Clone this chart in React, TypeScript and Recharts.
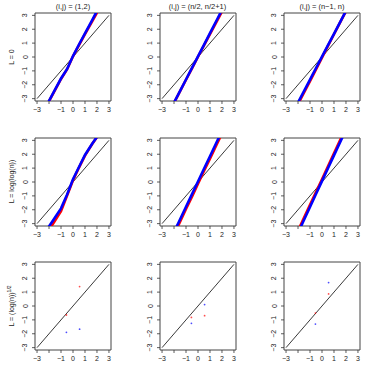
import React from "react";
import {
    ComposedChart,
    Line,
    ReferenceArea,
    Scatter,
    XAxis,
    YAxis,
} from "recharts";

// axis ticks
const X_TICKS = [-3, -2, -1, 0, 1, 2, 3];
const Y_TICKS = [-3, -2, -1, 0, 1, 2, 3];

const TITLES = ["(i,j) = (1,2)", "(i,j) = (n/2, n/2+1)", "(i,j) = (n\u22121, n)"];
const ROW_LABELS = ["L = 0", "L = log(log(n))", "L = (log(n))"];

// reference line y = x
const DIAG_X = [-3, 3];
const DIAG_Y = [-3, 3];

// theoretical quantiles, rows 1-2 (dense qq point clouds)
const QX = [-2.2, -1.6, -1.0, -0.5, 0, 0.5, 1.0, 1.6, 2.2];

// row 1 : L = 0
const P11_BLUE = [-3.48, -2.52, -1.55, -0.88, 0.07, 0.9, 1.7, 2.66, 3.64];
const P11_RED = [-3.5, -2.55, -1.58, -0.9, 0.05, 0.86, 1.64, 2.56, 3.5];
const P12_BLUE = [-3.62, -2.62, -1.62, -0.79, 0.05, 0.88, 1.72, 2.72, 3.72];
const P12_RED = [-3.64, -2.64, -1.64, -0.82, 0.02, 0.84, 1.64, 2.62, 3.6];
const P13_BLUE = [-3.61, -2.62, -1.63, -0.8, 0.02, 0.85, 1.67, 2.66, 3.65];
const P13_RED = [-3.72, -2.73, -1.74, -0.9, -0.05, 0.8, 1.64, 2.64, 3.62];

// row 2 : L = log(log(n))
const P21_BLUE = [-3.45, -2.68, -1.9, -0.92, 0.2, 1.08, 1.95, 2.75, 3.5];
const P21_RED = [-3.7, -2.92, -2.1, -1.0, 0.12, 1.04, 1.9, 2.74, 3.48];
const P22_BLUE = [-3.97, -2.88, -1.78, -0.87, 0.04, 0.95, 1.86, 2.95, 4.04];
const P22_RED = [-4.15, -3.06, -1.95, -1.05, -0.12, 0.8, 1.68, 2.77, 3.86];
const P23_BLUE = [-4.04, -2.92, -1.8, -0.87, 0.06, 0.99, 1.92, 3.03, 4.15];
const P23_RED = [-3.88, -2.76, -1.64, -0.72, 0.2, 1.13, 2.07, 3.18, 4.3];

// row 3 : L = (log(n))^(1/2), only two points per colour
const QX2 = [-0.55, 0.55];
const P31_RED = [-0.65, 1.4];
const P31_BLUE = [-1.9, -1.67];
const P32_RED = [-0.82, -0.7];
const P32_BLUE = [-1.25, 0.1];
const P33_RED = [-0.51, 0.87];
const P33_BLUE = [-1.3, 1.69];

const LIM = 3.17;
const PANEL = 125;
const STEP = 124.5;
const BOX_L = 35;
const BOX_T = 13;
const BOX_B = 101;
const FONT = "Liberation Sans, Arial, Helvetica, sans-serif";

const pts = (xs: number[], ys: number[]) => xs.map((x, i) => ({ x, y: ys[i] }));

const fmt = (v: number) => (v < 0 ? `\u2212${Math.abs(v)}` : `${v}`);

const XTick = (props: any) => {
    const { x, payload } = props;
    const v = payload.value;
    return (
        <g>
            <line x1={x} x2={x} y1={BOX_B} y2={BOX_B + 3} stroke="#333" strokeWidth={0.8} />
            {v !== -2 && (
                <text x={x} y={BOX_B + 10.5} textAnchor="middle" fontSize={7} fill="#222" fontFamily={FONT}>
                    {fmt(v)}
                </text>
            )}
        </g>
    );
};

const YTick = (props: any) => {
    const { y, payload } = props;
    const tx = BOX_L - 7.5;
    return (
        <g>
            <line x1={BOX_L - 3} x2={BOX_L} y1={y} y2={y} stroke="#333" strokeWidth={0.8} />
            <text
                x={tx}
                y={y}
                transform={`rotate(-90 ${tx} ${y})`}
                textAnchor="middle"
                fontSize={7}
                fill="#222"
                fontFamily={FONT}
            >
                {fmt(payload.value)}
            </text>
        </g>
    );
};

type PanelSpec = {
    blue: { x: number; y: number }[];
    red: { x: number; y: number }[];
    dots?: boolean;
};

const PANELS: PanelSpec[][] = [
    [
        { blue: pts(QX, P11_BLUE), red: pts(QX, P11_RED) },
        { blue: pts(QX, P12_BLUE), red: pts(QX, P12_RED) },
        { blue: pts(QX, P13_BLUE), red: pts(QX, P13_RED) },
    ],
    [
        { blue: pts(QX, P21_BLUE), red: pts(QX, P21_RED) },
        { blue: pts(QX, P22_BLUE), red: pts(QX, P22_RED) },
        { blue: pts(QX, P23_BLUE), red: pts(QX, P23_RED) },
    ],
    [
        { blue: pts(QX2, P31_BLUE), red: pts(QX2, P31_RED), dots: true },
        { blue: pts(QX2, P32_BLUE), red: pts(QX2, P32_RED), dots: true },
        { blue: pts(QX2, P33_BLUE), red: pts(QX2, P33_RED), dots: true },
    ],
];

const diag = pts(DIAG_X, DIAG_Y);

const dot = (color: string) => (p: any) => (
    <circle cx={p.cx} cy={p.cy} r={0.9} fill={color} fillOpacity={0.7} />
);

const Panel = ({ spec }: { spec: PanelSpec }) => (
    <ComposedChart
        width={PANEL}
        height={PANEL}
        margin={{ top: BOX_T, right: PANEL - BOX_L - 76, bottom: 0, left: 0 }}
    >
        <XAxis
            type="number"
            dataKey="x"
            domain={[-LIM, LIM]}
            allowDataOverflow
            ticks={X_TICKS}
            interval={0}
            height={PANEL - BOX_B}
            axisLine={false}
            tickLine={false}
            tick={(p: any) => <XTick {...p} />}
        />
        <YAxis
            type="number"
            dataKey="y"
            domain={[-LIM, LIM]}
            allowDataOverflow
            ticks={Y_TICKS}
            interval={0}
            width={BOX_L}
            axisLine={false}
            tickLine={false}
            tick={(p: any) => <YTick {...p} />}
        />
        <Line
            data={diag}
            dataKey="y"
            stroke="#222"
            strokeWidth={0.9}
            dot={false}
            isAnimationActive={false}
        />
        {spec.dots ? (
            <>
                <Scatter data={spec.red} dataKey="y" shape={dot("#ff0000")} isAnimationActive={false} />
                <Scatter data={spec.blue} dataKey="y" shape={dot("#0000ff")} isAnimationActive={false} />
            </>
        ) : (
            <>
                <Line
                    data={spec.red}
                    dataKey="y"
                    stroke="#ff0000"
                    strokeWidth={2.6}
                    dot={false}
                    isAnimationActive={false}
                />
                <Line
                    data={spec.blue}
                    dataKey="y"
                    stroke="#0000ff"
                    strokeWidth={2.6}
                    dot={false}
                    isAnimationActive={false}
                />
            </>
        )}
        <ReferenceArea
            x1={-LIM}
            x2={LIM}
            y1={-LIM}
            y2={LIM}
            fill="none"
            fillOpacity={0}
            stroke="#444"
            strokeWidth={1}
            ifOverflow="visible"
        />
    </ComposedChart>
);

export default function App() {
    const boxMidY = (BOX_T + BOX_B) / 2;
    return (
        <div
            style={{
                position: "absolute",
                left: 0,
                top: 0,
                width: 374,
                height: 374,
                background: "#fff",
                overflow: "hidden",
            }}
        >
            {PANELS.map((row, r) =>
                row.map((spec, c) => (
                    <div
                        key={`${r}-${c}`}
                        style={{ position: "absolute", left: c * STEP, top: r * STEP, width: PANEL, height: PANEL }}
                    >
                        <Panel spec={spec} />
                    </div>
                ))
            )}
            <svg
                width={374}
                height={374}
                style={{ position: "absolute", left: 0, top: 0, pointerEvents: "none" }}
                fontFamily={FONT}
            >
                {TITLES.map((t, c) => (
                    <text key={t} x={c * STEP + BOX_L + 38} y={9} textAnchor="middle" fontSize={7.5} fill="#222">
                        {t}
                    </text>
                ))}
                {ROW_LABELS.map((t, r) => {
                    const cy = r * STEP + boxMidY;
                    return (
                        <text
                            key={t}
                            x={13.5}
                            y={cy}
                            transform={`rotate(-90 13.5 ${cy})`}
                            textAnchor="middle"
                            fontSize={7}
                            fill="#222"
                        >
                            {t}
                            {r === 2 && (
                                <tspan fontSize={5} dy={-3}>
                                    1/2
                                </tspan>
                            )}
                        </text>
                    );
                })}
            </svg>
        </div>
    );
}
